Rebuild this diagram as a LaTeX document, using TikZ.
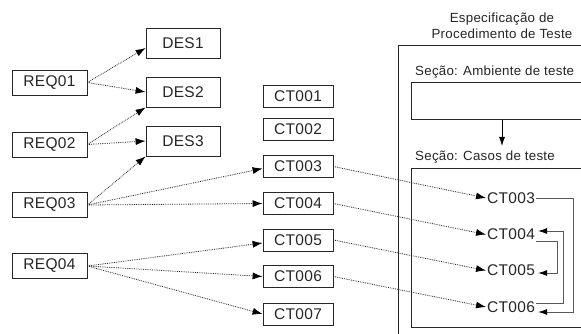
\documentclass[tikz,border=0pt]{standalone}
\usepackage{fontspec}
\setmainfont{Liberation Sans}
\newfontfamily\boxfont[LetterSpace=2]{Liberation Sans}
\newfontfamily\labfont[LetterSpace=2]{Liberation Sans}
\usetikzlibrary{arrows.meta}
\tikzset{
  base/.style={draw=black!85, line width=0.8pt, fill=white, inner sep=0pt, text=black!85,
    font=\boxfont\fontsize{15.5}{17}\selectfont},
  reqbox/.style={base, minimum width=75pt, minimum height=25pt},
  desbox/.style={base, minimum width=74pt, minimum height=30pt},
  ctbox/.style={base, minimum width=70pt, minimum height=22pt},
  inlabel/.style={inner sep=1pt, text=black!85, font=\boxfont\fontsize{15.5}{17}\selectfont},
  seclabel/.style={inner sep=2pt, text=black!85, font=\labfont\fontsize{13.3}{16}\selectfont},
  panel/.style={draw=black!85, line width=0.8pt, inner sep=0pt},
  dotarrow/.style={densely dotted, line width=0.8pt, draw=black!85,
    -{Latex[length=10pt,width=7pt,color=black]}},
  looparrow/.style={draw=black!65, line width=0.8pt,
    -{Latex[length=9pt,width=6pt,color=black]}},
  solidarrow/.style={draw=black, line width=0.8pt,
    -{Latex[length=9pt,width=6pt,color=black]}},
}
\begin{document}
\begin{tikzpicture}[x=1pt,y=-1pt]
\useasboundingbox (0,0) rectangle (581,334);
\clip (0,0) rectangle (581,334);
\fill[white] (0,0) rectangle (581,334);

% right panel
\node[panel, anchor=north west, minimum width=220pt, minimum height=320pt] (spec) at (398,45) {};
\node[seclabel, align=center] (title) at (502,26) {Especificação de\\Procedimento de Teste};
\node[seclabel, anchor=west] (s1) at (413,72) {Seção: Ambiente de teste};
\node[panel, anchor=north west, minimum width=200pt, minimum height=37pt] (amb) at (411,82) {};
\node[seclabel, anchor=west] (s2) at (413,157) {Seção: Casos de teste};
\node[panel, anchor=north west, minimum width=200pt, minimum height=159pt] (casos) at (411,168) {};
\coordinate (ax) at (502,0);
\coordinate (ae) at (502,146);
\draw[solidarrow] (amb.south -| ax) -- (ae);

% left nodes
\node[reqbox] (REQ01) at (49.5,82.5) {REQ01};
\node[reqbox] (REQ02) at (49.5,144.5) {REQ02};
\node[reqbox] (REQ03) at (49.5,205) {REQ03};
\node[reqbox] (REQ04) at (49.5,266) {REQ04};

\node[desbox] (DES1) at (183,43) {DES1};
\node[desbox] (DES2) at (183,92) {DES2};
\node[desbox] (DES3) at (183,141) {DES3};

\node[ctbox] (ct1) at (298,96) {CT001};
\node[ctbox] (ct2) at (298,129.5) {CT002};
\node[ctbox] (ct3) at (298,166.5) {CT003};
\node[ctbox] (ct4) at (298,203.5) {CT004};
\node[ctbox] (ct5) at (298,240) {CT005};
\node[ctbox] (ct6) at (298,276.5) {CT006};
\node[ctbox] (ct7) at (298,314) {CT007};

% inner labels
\node[inlabel, anchor=west] (i3) at (486,198) {CT003};
\node[inlabel, anchor=west] (i4) at (486,234.5) {CT004};
\node[inlabel, anchor=west] (i5) at (486,270.5) {CT005};
\node[inlabel, anchor=west] (i6) at (486,307) {CT006};

% dotted connectors
\draw[dotarrow] (REQ01.east) -- ([yshift=-5pt]DES1.west);
\draw[dotarrow] (REQ01.east) -- (DES2.west);
\draw[dotarrow] (REQ02.east) -- (DES2.south west);
\draw[dotarrow] (REQ02.east) -- (DES3.west);
\draw[dotarrow] (REQ03.east) -- (DES3.south west);
\draw[dotarrow] (REQ03.east) -- ([yshift=-2pt]ct3.west);
\draw[dotarrow] (REQ03.east) -- (ct4.west);
\draw[dotarrow] (REQ04.east) -- ([yshift=-3pt]ct5.west);
\draw[dotarrow] (REQ04.east) -- (ct6.west);
\draw[dotarrow] (REQ04.east) -- (ct7.west);

\draw[dotarrow] (ct3.east) -- (i3.west);
\draw[dotarrow] (ct4.east) -- (i4.west);
\draw[dotarrow] (ct5.east) -- (i5.west);
\draw[dotarrow] (ct6.east) -- (i6.west);

% loop connectors
\coordinate (xa) at (573,0);
\coordinate (xb) at (563,0);
\coordinate (xc) at (557,0);
\coordinate (o3) at (i3.east);
\coordinate (n6) at ([xshift=2pt,yshift=-5pt]i6.east);
\coordinate (o6) at ([yshift=4pt]i6.east);
\coordinate (n4) at ([xshift=2pt,yshift=3.5pt]i4.east);
\coordinate (o4) at ([yshift=-6.5pt]i4.east);
\coordinate (n5) at ([xshift=2pt,yshift=-2.5pt]i5.east);
\draw[looparrow] (o3) -- (o3 -| xa) |- (n6);
\draw[looparrow] (o6) -- (o6 -| xb) |- (n4);
\draw[looparrow] (o4) -- (o4 -| xc) |- (n5);
\end{tikzpicture}
\end{document}
